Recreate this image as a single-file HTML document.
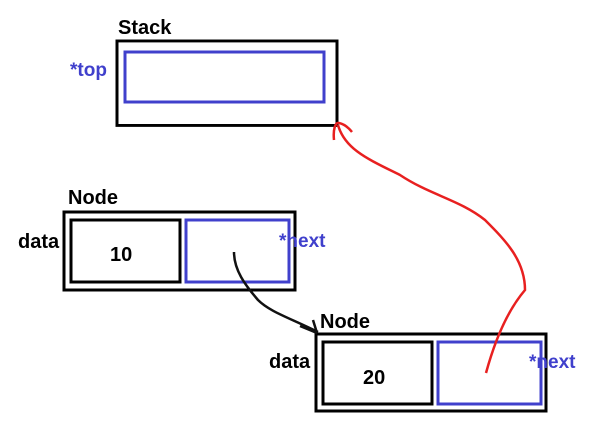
<!DOCTYPE html>
<html><head><meta charset="utf-8"><style>
body{margin:0;background:#fff;}
svg{display:block}
text{font-family:"Liberation Sans","DejaVu Sans",sans-serif;font-weight:bold;}
</style></head><body>
<svg width="611" height="428" viewBox="0 0 611 428">
<rect width="611" height="428" fill="#fff"/>
<g fill="none" stroke-width="3">
<rect x="117" y="51" width="220" height="88" stroke="#000" transform="translate(0,-8) scale(1,0.96)"/>
<rect x="125" y="60" width="199" height="50" stroke="#4040cc" transform="translate(0,-8)"/>
<rect x="64" y="212" width="231" height="78" stroke="#000"/>
<rect x="71" y="220" width="109" height="62" stroke="#000"/>
<rect x="186" y="220" width="103" height="62" stroke="#4040cc"/>
<rect x="316" y="334" width="230" height="77" stroke="#000"/>
<rect x="323" y="342" width="109" height="62" stroke="#000"/>
<rect x="438" y="342" width="103" height="62" stroke="#4040cc"/>
</g>
<text x="118" y="34" font-size="20" fill="#000">Stack</text>
<text x="70" y="76" font-size="19" fill="#4040cc">*top</text>
<text x="68" y="204" font-size="20" fill="#000">Node</text>
<text x="18" y="248" font-size="20" fill="#000">data</text>
<text x="110" y="261" font-size="20" fill="#000">10</text>
<text x="279" y="247" font-size="19" fill="#4040cc">*next</text>
<text x="320" y="328" font-size="20" fill="#000">Node</text>
<text x="269" y="368" font-size="20" fill="#000">data</text>
<text x="363" y="384" font-size="20" fill="#000">20</text>
<text x="529" y="368" font-size="19" fill="#4040cc">*next</text>
<path d="M234,252 C234,270 245,285 258,300 C270,312 290,318 318,332" fill="none" stroke="#111" stroke-width="2.5"/>
<path d="M300,326 L317,333 M313,320 L317,333" fill="none" stroke="#111" stroke-width="2.5"/>
<path d="M486,373 C495,340 508,310 525,290 C525,260 505,240 485,220 C460,200 430,195 400,175 C370,160 345,150 338,125" fill="none" stroke="#e82020" stroke-width="2.5"/>
<path d="M334,140 C333,130 335,122 339,123 C344,124 348,127 352,132" fill="none" stroke="#e82020" stroke-width="2.5"/>
</svg>
</body></html>
